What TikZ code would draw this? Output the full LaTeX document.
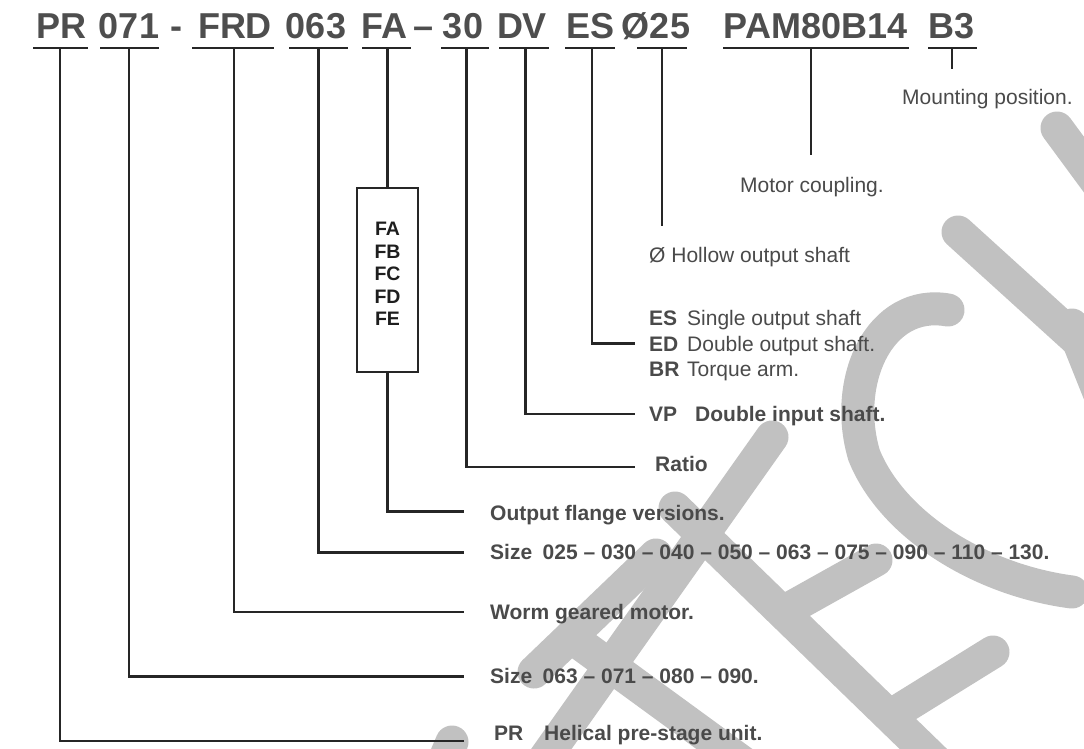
\documentclass[tikz,border=0pt]{standalone}
\usepackage{fontspec}
\setmainfont{Liberation Sans}
\definecolor{linecol}{HTML}{262626}
\definecolor{hdrcol}{HTML}{4E4E4E}
\definecolor{lblcol}{HTML}{4A4A4A}
\definecolor{boxcol}{HTML}{1E1E1E}
\definecolor{wmcol}{HTML}{C1C1C1}
\begin{document}
\begin{tikzpicture}[x=1pt,y=-1pt,
  ln/.style={line width=2.2pt, draw=linecol},
  hdr/.style={anchor=base, inner sep=0pt, text=hdrcol, font=\fontsize{36}{40}\selectfont\bfseries},
  lbl/.style={anchor=base west, inner sep=0pt, text=lblcol, font=\fontsize{21}{25}\selectfont},
  lblb/.style={anchor=base west, inner sep=0pt, text=lblcol, font=\fontsize{21}{25}\selectfont\bfseries},
  wm/.style={line width=33pt, draw=wmcol, line cap=round}]
\useasboundingbox (0,0) rectangle (1084,748);
\fill[white] (0,0) rectangle (1084,748);
% watermark
\begin{scope}
\clip (0,0) rectangle (1084,748);
\draw[wm] (772,437) -- (540,765);
\draw[wm] (656,555) -- (534,672);
\draw[wm] (575,640) -- (760,775);
\draw[wm] (675,508) -- (945,770);
\draw[wm] (876,560) -- (783,612);
\draw[wm] (993,652) -- (893,714);
\draw[wm] (948,310) .. controls (880,298) and (842,380) .. (864,455) .. controls (892,525) and (980,580) .. (1072,592);
\draw[wm] (1057,128) -- (1110,200);
\draw[wm] (958,232) -- (1110,370);
\draw[wm] (1072,325) -- (1100,395);
\draw[wm] (452,742) -- (440,770);
\end{scope}
% header
\node[hdr] (hPR) at (61.5,38) {PR};
\node[hdr] (h071) at (129,38) {071};
\node[hdr] (hdash) at (176,38) {-};
\node[hdr] (hFRD) at (235,38) {FRD};
\node[hdr] (h063) at (316,38) {063};
\node[hdr] (hFA) at (384,38) {FA};
\node[hdr] (hndash) at (424,38) {–};
\node[hdr] (h30) at (463,38) {30};
\node[hdr] (hDV) at (522,38) {DV};
\node[hdr] (hES) at (590.5,38) {ES};
\node[hdr] (hDia) at (656,38) {Ø25};
\node[hdr] (hPAM) at (815.5,38) {PAM80B14};
\node[hdr] (hB3) at (951.5,38) {B3};
% underlines
\foreach \a/\b/\n in {33/88/PR, 100/159/N071, 192/274/FRD, 289/348/N063, 362/411/FA, 441/489/N30, 499/549/DV, 565/615/ES, 637/687/DIA, 723/909/PAM, 928/977/B3}{
  \coordinate (\n L) at (\a,48);
  \coordinate (\n R) at (\b,48);
  \draw[ln] (\n L) -- (\n R);
}
% taps
\coordinate (tPR) at (60,48);
\coordinate (t071) at (129,48);
\coordinate (tFRD) at (234,48);
\coordinate (t063) at (318.5,48);
\coordinate (tFA) at (387.5,48);
\coordinate (t30) at (466.5,48);
\coordinate (tDV) at (525.5,48);
\coordinate (tES) at (592,48);
\coordinate (tDIA) at (662,48);
\coordinate (tPAM) at (811,48);
\coordinate (tB3) at (952,48);
% ends
\coordinate (ePR) at (464,741);
\coordinate (e071) at (464,676.5);
\coordinate (eFRD) at (464,612);
\coordinate (e063) at (464,552.4);
\coordinate (eFA) at (464,511.5);
\coordinate (e30) at (635,466.6);
\coordinate (eDV) at (635,414);
\coordinate (eES) at (635,343.5);
\coordinate (eDIA) at (662,225.5);
\coordinate (ePAM) at (811,155);
\coordinate (eB3) at (952,69);
% box
\node[draw=linecol, line width=2.2pt, minimum width=61pt, minimum height=184pt, inner sep=0pt] (box) at (387.5,280) {};
\node[align=center, inner sep=0pt, text=boxcol, font=\fontsize{19.5}{22.5}\selectfont\bfseries] (boxtxt) at (387.5,274) {FA\\FB\\FC\\FD\\FE};
% connectors
\draw[ln] (tPR) |- (ePR);
\draw[ln] (t071) |- (e071);
\draw[ln] (tFRD) |- (eFRD);
\draw[ln] (t063) |- (e063);
\draw[ln] (tFA) -- (box.north);
\draw[ln] (box.south) |- (eFA);
\draw[ln] (t30) |- (e30);
\draw[ln] (tDV) |- (eDV);
\draw[ln] (tES) |- (eES);
\draw[ln] (tDIA) -- (eDIA);
\draw[ln] (tPAM) -- (ePAM);
\draw[ln] (tB3) -- (eB3);
% labels
\node[lbl] (lMount) at (902,104.5) {Mounting position.};
\node[lbl] (lMotor) at (740,192.5) {Motor coupling.};
\node[lbl] (lHollow) at (649,262.5) {Ø Hollow output shaft};
\node[lblb] (kES) at (649,325) {ES};
\node[lbl] (dES) at (687,325) {Single output shaft};
\node[lblb] (kED) at (649,351) {ED};
\node[lbl] (dED) at (687,351) {Double output shaft.};
\node[lblb] (kBR) at (649,376.5) {BR};
\node[lbl] (dBR) at (687,376.5) {Torque arm.};
\node[lblb] (kVP) at (649,421.5) {VP};
\node[lblb] (dVP) at (695,421.5) {Double input shaft.};
\node[lblb] (lRatio) at (655,471) {Ratio};
\node[lblb] (lFlange) at (490,520.5) {Output flange versions.};
\node[lblb] (lSize1) at (490,559.5) {Size\enspace 025 – 030 – 040 – 050 – 063 – 075 – 090 – 110 – 130.};
\node[lblb] (lWorm) at (490,619.5) {Worm geared motor.};
\node[lblb] (lSize2) at (490,683.5) {Size\enspace 063 – 071 – 080 – 090.};
\node[lblb] (kPR) at (494,740.5) {PR};
\node[lblb] (dPR) at (544,740.5) {Helical pre-stage unit.};
\end{tikzpicture}
\end{document}
